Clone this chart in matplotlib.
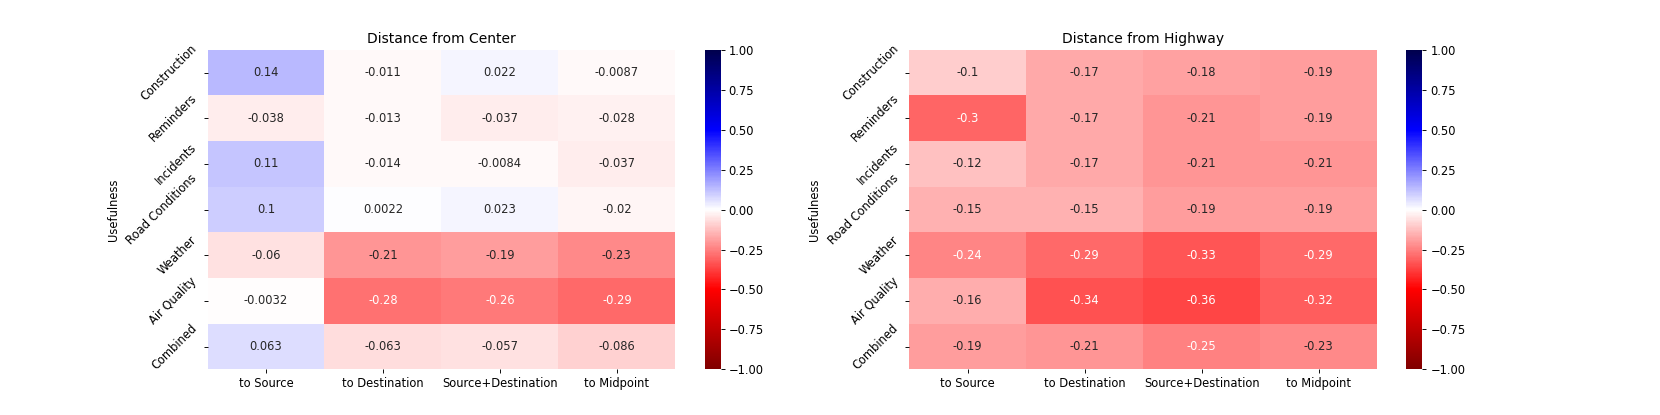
import matplotlib
matplotlib.use("Agg")
import matplotlib.pyplot as plt
import numpy as np
import pandas as pd
import seaborn as sns

features = ["Construction", "Reminders", "Incidents", "Road Conditions",
            "Weather", "Air Quality", "Combined"]
measures = ["to Source", "to Destination", "Source+Destination", "to Midpoint"]

center = [
    [0.14, -0.011, 0.022, -0.0087],
    [-0.038, -0.013, -0.037, -0.028],
    [0.11, -0.014, -0.0084, -0.037],
    [0.1, 0.0022, 0.023, -0.02],
    [-0.06, -0.21, -0.19, -0.23],
    [-0.0032, -0.28, -0.26, -0.29],
    [0.063, -0.063, -0.057, -0.086],
]
highway = [
    [-0.1, -0.17, -0.18, -0.19],
    [-0.3, -0.17, -0.21, -0.19],
    [-0.12, -0.17, -0.21, -0.21],
    [-0.15, -0.15, -0.19, -0.19],
    [-0.24, -0.29, -0.33, -0.29],
    [-0.16, -0.34, -0.36, -0.32],
    [-0.19, -0.21, -0.25, -0.23],
]

fig, axes = plt.subplots(1, 2, figsize=(20, 5), dpi=83)

for ax, data, title in zip(axes, [center, highway],
                           ["Distance from Center", "Distance from Highway"]):
    df = pd.DataFrame(data, index=features, columns=measures)
    sns.heatmap(df, ax=ax, annot=True, cmap="seismic_r", vmin=-1, vmax=1)
    ax.set_title(title)
    ax.set_ylabel("Usefulness")
    ax.tick_params(axis="y", rotation=45)
    ax.tick_params(axis="x", rotation=0)

fig.savefig("out.png", dpi=83)
